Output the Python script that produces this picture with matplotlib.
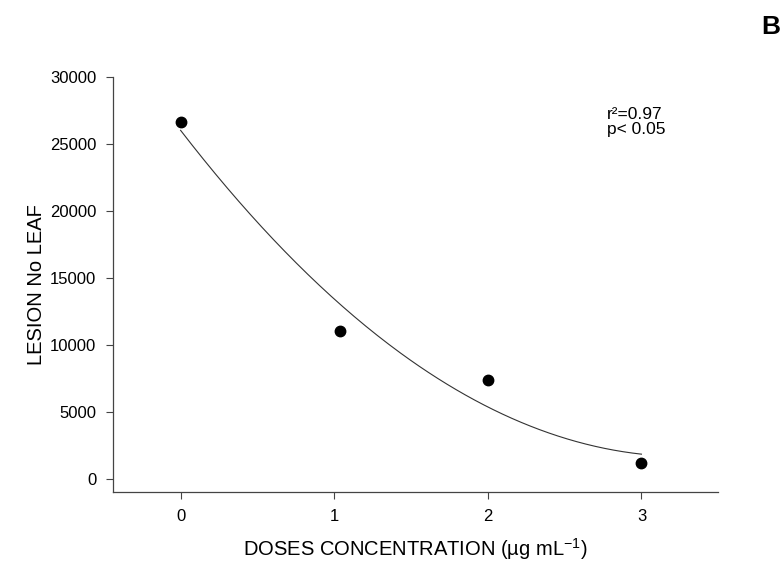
import numpy as np
import matplotlib.pyplot as plt

plt.rcParams['font.family'] = ['Liberation Sans', 'DejaVu Sans']
plt.rcParams['axes.unicode_minus'] = False

# data
doses = [0, 1.04, 2, 3]
lesions = [26650, 11050, 7400, 1200]
yticks = [0, 5000, 10000, 15000, 20000, 25000, 30000]
xticks = [0, 1, 2, 3]

fig = plt.figure(figsize=(7.82, 5.63), dpi=100)
ax = fig.add_axes([0.1445, 0.126, 0.774, 0.737])

# quadratic regression line
coef = np.polyfit(doses, lesions, 2)
xs = np.linspace(0, 3, 200)
ax.plot(xs, np.polyval(coef, xs), color='#333333', lw=0.8)
ax.plot(doses, lesions, 'o', color='black', ms=7.5)

ax.set_xlim(-0.44, 3.5)
ax.set_ylim(-970, 30000)
ax.set_xticks(xticks)
ax.set_yticks(yticks)
ax.tick_params(direction='out', length=5, width=0.8, color='#444444', labelsize=12, pad=7)
for s in ['top', 'right']:
    ax.spines[s].set_visible(False)
for s in ['left', 'bottom']:
    ax.spines[s].set_color('#444444')
    ax.spines[s].set_linewidth(0.9)

ax.set_xlabel('DOSES CONCENTRATION (µg mL$^{\\mathregular{-1}}$)', fontsize=14.5, labelpad=9)
ax.set_ylabel('LESION No LEAF', fontsize=14.5, labelpad=3)

fig.text(0.776, 0.81, 'r²=0.97\np< 0.05', fontsize=12.5, va='top', ha='left', linespacing=1.0)
fig.text(0.998, 0.952, 'B', fontsize=19, fontweight='bold', ha='right', va='center')

fig.savefig('out.png', dpi=100)
